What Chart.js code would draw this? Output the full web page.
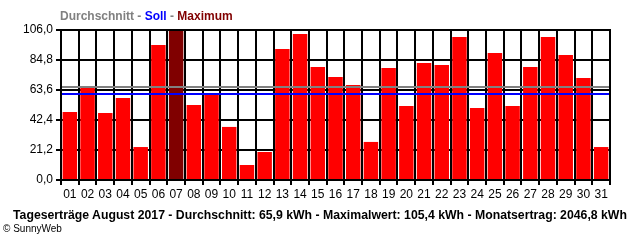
<!DOCTYPE html>
<html lang="de">
<head>
  <meta charset="UTF-8">
  <title>Tageserträge August 2017</title>
  <style>
    html, body {
      margin: 0;
      padding: 0;
      background: #fff;
      width: 640px;
      height: 240px;
      overflow: hidden;
      font-family: "Liberation Sans", Arial, sans-serif;
    }
    #wrap {
      position: relative;
      width: 640px;
      height: 240px;
    }
    #legend {
      position: absolute;
      left: 60px;
      top: 9px;
      font-size: 12px;
      font-weight: bold;
      color: #808080;
      white-space: nowrap;
    }
    #legend .soll { color: #0000ff; }
    #legend .max { color: #800000; }
    #title {
      position: absolute;
      left: 13px;
      top: 207px;
      font-size: 13px;
      font-weight: bold;
      color: #000;
      white-space: nowrap;
      transform-origin: 0 0;
    }
    #copy {
      position: absolute;
      left: 3px;
      top: 223px;
      font-size: 10px;
      color: #000;
      white-space: nowrap;
    }
    canvas { position: absolute; left: 0; top: 0; }
  </style>
</head>
<body>
  <div id="wrap">
    <canvas id="chart" width="640" height="240"></canvas>
    <div id="legend">Durchschnitt - <span class="soll">Soll</span> - <span class="max">Maximum</span></div>
    <div id="title">Tageserträge August 2017 - Durchschnitt: 65,9 kWh - Maximalwert: 105,4 kWh - Monatsertrag: 2046,8 kWh</div>
    <div id="copy">© SunnyWeb</div>
  </div>

  <script src="https://cdn.jsdelivr.net/npm/chart.js"></script>
  <script>
    const tage = ['01','02','03','04','05','06','07','08','09','10','11','12','13','14','15','16',
                  '17','18','19','20','21','22','23','24','25','26','27','28','29','30','31'];
    const ertrag = [48.0, 65.9, 47.3, 57.9, 23.3, 95.4, 105.4, 53.0, 60.8, 37.5, 10.6, 19.8, 92.6, 103.2, 79.9, 72.8,
                    67.1, 26.9, 79.1, 52.3, 82.7, 81.3, 101.1, 50.9, 89.7, 52.3, 79.9, 101.1, 88.3, 72.1, 23.3];
    const yTicks = [0, 21.2, 42.4, 63.6, 84.8, 106.0];
    const durchschnitt = 65.9;
    const soll = 60.6;

    const maxWert = Math.max(...ertrag);
    const farben = ertrag.map(v => v === maxWert ? '#800000' : '#ff0000');

    // Titel schmaler machen, damit er wie im Original passt
    const titel = document.getElementById('title');
    titel.style.transform = `scaleX(${614 / titel.offsetWidth})`;

    // Linien für Durchschnitt und Soll über die ganze Breite
    const linienPlugin = {
      id: 'linien',
      afterDatasetsDraw(chart) {
        const { ctx, chartArea, scales } = chart;
        const zeichne = (wert, farbe) => {
          const y = Math.round(scales.y.getPixelForValue(wert));
          ctx.save();
          ctx.strokeStyle = farbe;
          ctx.lineWidth = 2;
          ctx.beginPath();
          ctx.moveTo(chartArea.left, y);
          ctx.lineTo(chartArea.right, y);
          ctx.stroke();
          ctx.restore();
        };
        zeichne(durchschnitt, '#808080');
        zeichne(soll, '#0000ff');
        // Rahmen
        ctx.save();
        ctx.strokeStyle = '#000';
        ctx.lineWidth = 2;
        ctx.strokeRect(chartArea.left, chartArea.top, chartArea.right - chartArea.left, chartArea.bottom - chartArea.top);
        ctx.restore();
      }
    };

    new Chart(document.getElementById('chart').getContext('2d'), {
      type: 'bar',
      data: {
        labels: tage,
        datasets: [{
          data: ertrag,
          backgroundColor: farben,
          borderWidth: 0,
          barPercentage: 0.86,
          categoryPercentage: 0.95
        }]
      },
      options: {
        responsive: false,
        animation: false,
        layout: { padding: { top: 30, right: 30, left: 0, bottom: 0 } },
        plugins: {
          legend: { display: false },
          tooltip: { enabled: false }
        },
        scales: {
          x: {
            offset: true,
            grid: { offset: true, color: '#000', lineWidth: 2, tickLength: 5, drawTicks: true },
            border: { display: false },
            ticks: {
              color: '#000',
              font: { family: 'Liberation Sans', size: 12 },
              padding: 2,
              maxRotation: 0,
              autoSkip: false
            },
            afterFit: s => { s.height = 60; }
          },
          y: {
            min: 0,
            max: 106,
            afterBuildTicks: s => { s.ticks = yTicks.map(v => ({ value: v })); },
            grid: { color: '#000', lineWidth: 2, tickLength: 5 },
            border: { display: false },
            ticks: {
              color: '#000',
              font: { family: 'Liberation Sans', size: 12 },
              padding: 3,
              callback: v => v.toFixed(1).replace('.', ',')
            },
            afterFit: s => { s.width = 61; }
          }
        }
      },
      plugins: [linienPlugin]
    });
  </script>
</body>
</html>
